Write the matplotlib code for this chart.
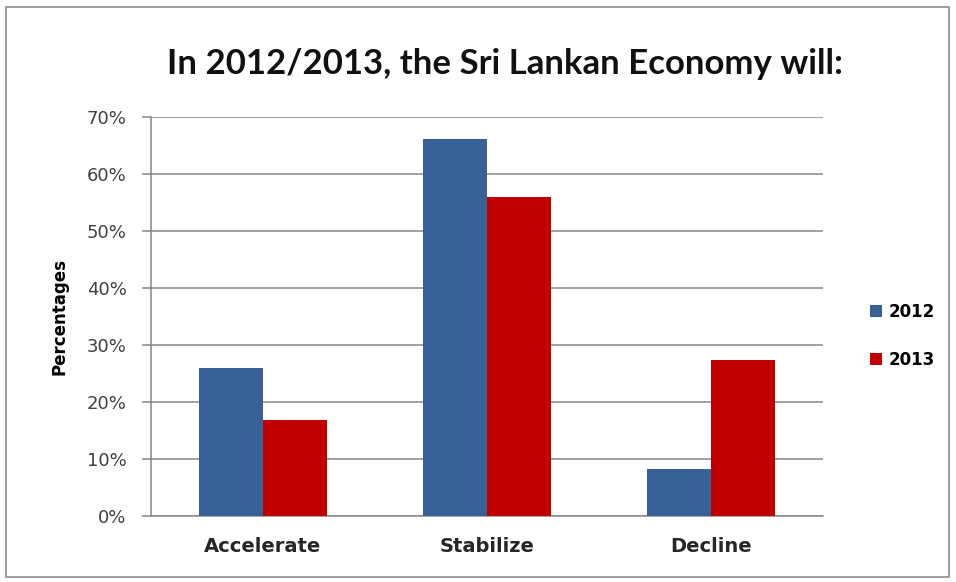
import matplotlib.pyplot as plt
import matplotlib.patches as patches
import numpy as np

categories = ['Accelerate', 'Stabilize', 'Decline']
years = ['2012', '2013']
values_2012 = [26.0, 66.2, 8.2]
values_2013 = [16.8, 56.0, 27.4]
yticks = [0, 10, 20, 30, 40, 50, 60, 70]

blue = '#376196'
red = '#C00000'

fig = plt.figure(figsize=(9.56, 5.82), dpi=100)
W, H = 956, 582
ax = fig.add_axes([151 / W, 1 - 516 / H, (823 - 151) / W, (516 - 117) / H])

x = np.arange(len(categories))
bw = 0.286
ax.bar(x - bw / 2, values_2012, bw, color=blue, label=years[0], zorder=3)
ax.bar(x + bw / 2, values_2013, bw, color=red, label=years[1], zorder=3)

ax.set_xlim(-0.5, 2.5)
ax.set_ylim(0, 70)
ax.set_yticks(yticks)
ax.set_yticklabels([f'{t}%' for t in yticks], fontsize=13, color='#404040',
                   family='DejaVu Sans')
ax.set_xticks(x)
ax.set_xticklabels(categories, fontsize=14, fontweight='bold', color='#262626',
                   family='DejaVu Sans')
ax.yaxis.grid(True, color='#868686', linewidth=1.1, zorder=0)
for s in ['top', 'right']:
    ax.spines[s].set_visible(False)
ax.spines['left'].set_color('#868686')
ax.spines['bottom'].set_color('#868686')
ax.spines['left'].set_linewidth(1.1)
ax.spines['bottom'].set_linewidth(1.1)
ax.tick_params(axis='y', length=6.5, color='#868686', width=1.1, pad=11)
ax.tick_params(axis='x', length=0, pad=15)
ax.set_ylabel('Percentages', fontsize=12, fontweight='bold', family='DejaVu Sans',
              labelpad=13)

fig.text(505 / W, 1 - 64 / H, 'In 2012/2013, the Sri Lankan Economy will:',
         ha='center', va='center', fontsize=25, fontweight='bold', family='Lato',
         color='#111111')

ax.legend(loc='center left', bbox_to_anchor=(855 / W, 1 - 336 / H),
          bbox_transform=fig.transFigure, frameon=False,
          prop={'family': 'DejaVu Sans', 'weight': 'bold', 'size': 12},
          handlelength=0.7, handleheight=0.7, handletextpad=0.4, labelspacing=1.8)

fig.patches.append(patches.Rectangle((6 / W, 1 - 577 / H), 943 / W, 570 / H,
                                     transform=fig.transFigure, fill=False,
                                     edgecolor='#8c8c8c', linewidth=1.2))

fig.savefig('out.png', dpi=100)
